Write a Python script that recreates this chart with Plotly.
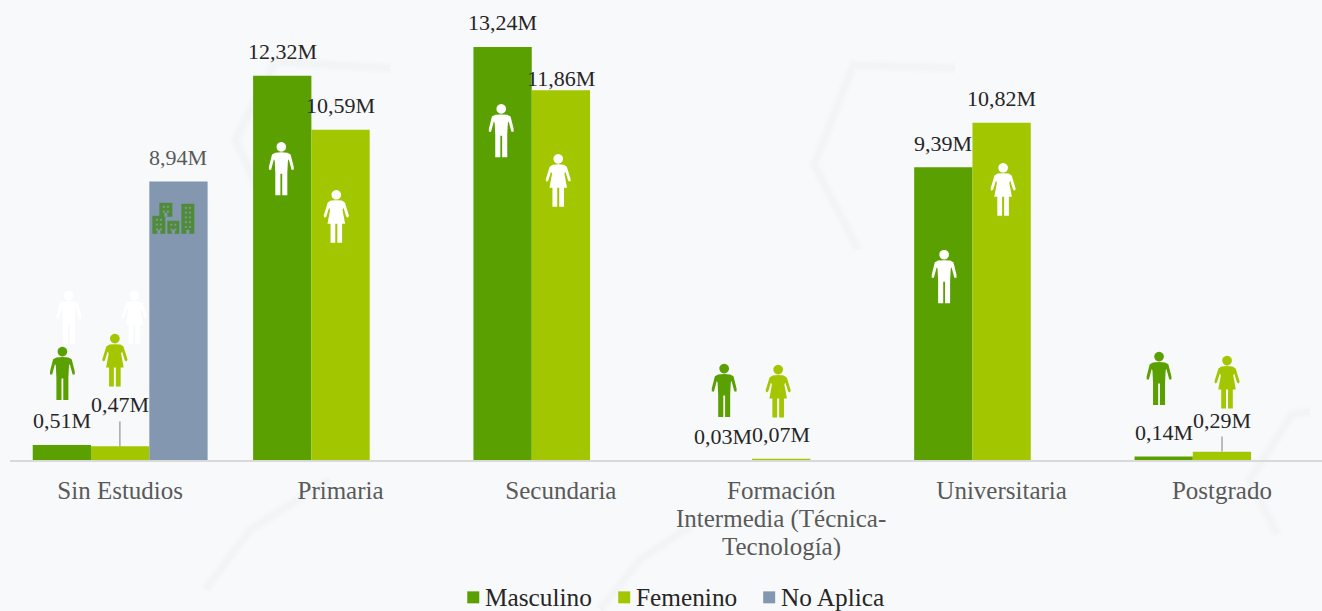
import math
import plotly.graph_objects as go

# ---- data ----
categories = ["Sin Estudios", "Primaria", "Secundaria", "Formación Intermedia (Técnica-Tecnología)", "Universitaria", "Postgrado"]
tick_labels = ["Sin Estudios", "Primaria", "Secundaria", "Formación", "Universitaria", "Postgrado"]
masculino = [0.51, 12.32, 13.24, 0.03, 9.39, 0.14]
femenino = [0.47, 10.59, 11.86, 0.07, 10.82, 0.29]
no_aplica = [8.94, None, None, None, None, None]

# ---- styling ----
W, H = 1322, 611
ML, MT, MB = 9.6, 10, 150.5
GREEN, LIME, SLATE = "#5aa000", "#a2c600", "#8497b0"
DARK, GREY = "#262626", "#595959"
FONT = "Liberation Serif"
LABEL_SIZE, TICK_SIZE, LEG_SIZE = 22, 25, 25.3
SLOT = 58.3
YMIN = 0.03
YMAX = (H - MT - MB) / 31.3 + YMIN


def px(x, y):
    return (x - ML) / (W - ML), 1 - (y - MT) / (H - MT - MB)


def path(points):
    out = []
    for i, (x, y) in enumerate(points):
        a, b = px(x, y)
        out.append(("M" if i == 0 else "L") + f"{a:.5f},{b:.5f}")
    return " ".join(out) + " Z"


def paper_shape(points, color, layer="above", **kw):
    return dict(type="path", xref="paper", yref="paper", path=path(points),
                fillcolor=color, line=dict(width=0), layer=layer, **kw)


MALE = [(0, 10.5), (6, 10.8), (9.3, 12.6), (12.4, 25), (12.4, 28), (10.2, 28), (7.4, 17.5), (6.6, 19),
        (6, 31), (6, 53.5), (0.9, 53.5), (0.9, 32), (0, 32)]
FEMALE = [(0, 10.5), (5.5, 10.8), (8.6, 12.8), (12.6, 26), (11.8, 28), (10, 27), (7.2, 18), (6.2, 20),
          (8.8, 34), (5.8, 34), (5.8, 53), (1, 53), (1, 34), (0, 34)]


def person(cx, top, kind, color):
    half = MALE if kind == "m" else FEMALE
    body = [(cx + a, top + b) for a, b in half] + [(cx - a, top + b) for a, b in reversed(half[1:-1])]
    head = [(cx + 4.8 * math.cos(t * math.pi / 12), top + 5 + 4.8 * math.sin(t * math.pi / 12)) for t in range(24)]
    return [paper_shape(body, color), paper_shape(head, color)]


ICONS = [(62, 347, "m", GREEN), (68.5, 291, "m", "#ffffff"), (134, 291, "f", "#ffffff"), (114.5, 334, "f", LIME),
         (281, 142, "m", "#ffffff"), (336, 190, "f", "#ffffff"), (501, 104, "m", "#ffffff"), (558, 154, "f", "#ffffff"),
         (724, 364, "m", GREEN), (778, 365, "f", LIME), (944, 250, "m", "#ffffff"), (1003, 163, "f", "#ffffff"),
         (1159, 352, "m", GREEN), (1227, 356, "f", LIME)]

shapes = []

# faint hexagon background strokes
HEX = [
    [(955, 68), (853, 65), (814, 165), (858, 250)],
    [(390, 68), (275, 62), (235, 140), (270, 215)],
    [(1310, 412), (1292, 415), (1250, 480), (1277, 535)],
    [(205, 590), (250, 530), (330, 480)],
    [(600, 610), (640, 560), (700, 520)],
]
for seg in HEX:
    d = " ".join(("M" if i == 0 else "L") + "{:.5f},{:.5f}".format(*px(*p)) for i, p in enumerate(seg))
    for width, alpha in [(12, 0.06), (6, 0.09)]:
        shapes.append(dict(type="path", xref="paper", yref="paper", path=d, layer="below",
                           line=dict(color=f"rgba(215,217,221,{alpha})", width=width)))

# leader lines
for x, y0, y1 in [(119.5, 422, 447), (1222, 437, 452)]:
    a, b0 = px(x, y0)
    _, b1 = px(x, y1)
    shapes.append(dict(type="line", xref="paper", yref="paper", x0=a, x1=a, y0=b0, y1=b1,
                       line=dict(color="#a6a6a6", width=1.5)))

# people icons
for cx, top, kind, color in ICONS:
    shapes += person(cx, top, kind, color)

# building icon
BCOL = "#4f8b3b"
for x0, x1, y0, y1, rows in [(152, 165, 216, 234, 3), (159, 172, 203, 217, 2), (167, 179, 221, 234, 2), (181, 194, 204, 234, 5)]:
    shapes.append(paper_shape([(x0, y0), (x1, y0), (x1, y1), (x0, y1)], BCOL))
    mid = (x0 + x1) / 2
    for r in range(rows):
        wy = y0 + 3 + r * 4.8
        for wx in (mid - 3, mid + 1):
            shapes.append(paper_shape([(wx, wy), (wx + 2, wy), (wx + 2, wy + 2), (wx, wy + 2)], "#7f9a8a"))
    shapes.append(paper_shape([(mid - 1.5, y1 - 4), (mid + 1.5, y1 - 4), (mid + 1.5, y1), (mid - 1.5, y1)], SLATE))

annotations = []
# per-label vertical distance (px) from the bar top to the label centre
DEFAULT_OFF = 24
OFFSETS = {(0, -1): 24, (0, 0): 42, (2, 0): 12, (5, 0): 31}


def fmt(v):
    return f"{v:.2f}".replace(".", ",") + "M"


for slot, series in [(-1, masculino), (0, femenino), (1, no_aplica)]:
    for i, v in enumerate(series):
        if v is None:
            continue
        annotations.append(dict(x=i, y=v, xref="x", yref="y", text=fmt(v), showarrow=False,
                                xanchor="center", yanchor="middle", xshift=slot * SLOT,
                                yshift=OFFSETS.get((i, slot), DEFAULT_OFF),
                                font=dict(family=FONT, size=LABEL_SIZE, color=GREY if slot == 1 else DARK)))

# continuation lines of the long category label
for i, txt in [(520, "Intermedia (Técnica-"), (548, "Tecnología)")]:
    a, b = px(781, i)
    annotations.append(dict(x=a, y=b, xref="paper", yref="paper", text=txt, showarrow=False, xanchor="center",
                            yanchor="middle", font=dict(family=FONT, size=TICK_SIZE, color=GREY)))

# legend
for x_sw, name, color in [(467, "Masculino", GREEN), (618, "Femenino", LIME), (763, "No Aplica", SLATE)]:
    shapes.append(paper_shape([(x_sw, 592), (x_sw + 12, 592), (x_sw + 12, 604), (x_sw, 604)], color))
    a, b = px(x_sw + 18, 598)
    annotations.append(dict(x=a, y=b, xref="paper", yref="paper", text=name, showarrow=False, xanchor="left",
                            yanchor="middle", xshift=-2, font=dict(family=FONT, size=LEG_SIZE, color=DARK)))

fig = go.Figure()
for name, vals, color in [("Masculino", masculino, GREEN), ("Femenino", femenino, LIME), ("No Aplica", no_aplica, SLATE)]:
    fig.add_bar(x=list(range(len(categories))), y=vals, name=name, marker=dict(color=color, line=dict(width=0)),
                customdata=categories, hovertemplate="%{customdata}<br>" + name + ": %{y:.2f}M<extra></extra>")

fig.update_layout(
    width=W, height=H, margin=dict(l=ML, r=0, t=MT, b=MB, pad=0),
    paper_bgcolor="#f8f9fb", plot_bgcolor="rgba(0,0,0,0)",
    barmode="group", bargap=1 - 3 * SLOT / 220.4, bargroupgap=0, showlegend=False,
    shapes=shapes, annotations=annotations,
    xaxis=dict(range=[-0.5, 5.454], tickmode="array", tickvals=list(range(6)), ticktext=tick_labels,
               showgrid=False, zeroline=False, showline=True, linecolor="#d9d9d9", linewidth=2,
               ticks="", ticklabelstandoff=7, tickfont=dict(family=FONT, size=TICK_SIZE, color=GREY)),
    yaxis=dict(range=[YMIN, YMAX], visible=False, showgrid=False, zeroline=False),
)
fig.write_html("out.html", config=dict(displayModeBar=False),
               post_script="document.body.style.margin='0';document.body.style.overflow='hidden';")
